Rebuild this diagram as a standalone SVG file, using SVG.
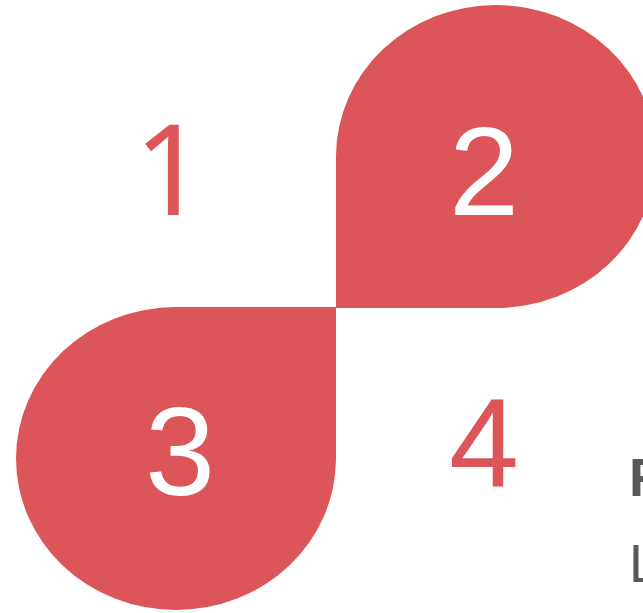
<svg xmlns="http://www.w3.org/2000/svg" width="643" height="613" viewBox="0 0 643 613">
<style>
.shape{fill:#DC5558}
.num{font-family:"Liberation Sans",Arial,sans-serif;font-size:126px;text-anchor:middle}
.one{font-family:"Noto Sans","Liberation Sans",sans-serif}
.w{fill:#FFFFFF}
.r{fill:#DC5558}
.side{font-family:"Liberation Sans",Arial,sans-serif;font-size:54px;fill:#595959}
</style>
<rect width="643" height="613" fill="#FFFFFF"/>
<g id="node1">
<text class="num one r" x="170" y="215">1</text>
</g>
<g id="node2">
<path class="shape" d="M336,308 L336,156.5 A160,151.5 0 0 1 496,5 A160,151.5 0 0 1 656,156.5 A160,151.5 0 0 1 496,308 Z"/>
<text class="num w" x="484" y="215">2</text>
</g>
<g id="node3">
<path class="shape" d="M336,307 L336,458.5 A160,151.5 0 0 1 176,610 A160,151.5 0 0 1 16,458.5 A160,151.5 0 0 1 176,307 Z"/>
<text class="num w" x="180" y="495">3</text>
</g>
<g id="node4">
<text class="num r" x="484" y="487">4</text>
</g>
<g id="connectors"></g>
<g id="side-text">
<text class="side" x="629" y="496" font-weight="bold">F</text>
<text class="side" x="629" y="582">L</text>
</g>
</svg>
